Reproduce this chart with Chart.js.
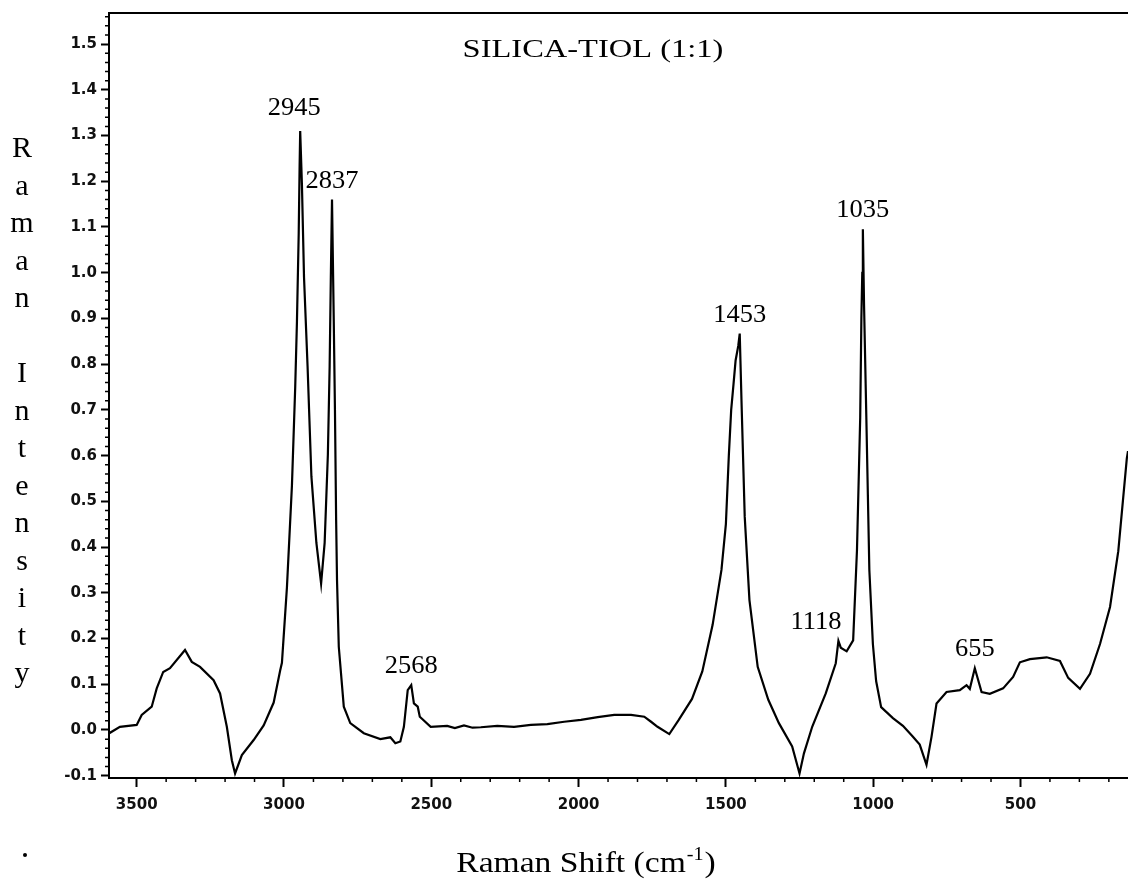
<!DOCTYPE html>
<html>
<head>
<meta charset="utf-8">
<title>SILICA-TIOL (1:1)</title>
<script src="https://cdn.jsdelivr.net/npm/chart.js@4/dist/chart.umd.min.js"></script>
<style>
  html, body { margin: 0; padding: 0; background: #fff; }
  #wrap { width: 1128px; height: 880px; position: relative; }
</style>
</head>
<body>
<div id="wrap"><canvas id="ramanChart"></canvas></div>
<script>
// Raman shift (cm-1), high to low
var shift = [
  3593, 3557, 3500, 3483, 3449, 3432, 3410, 3387, 3336, 3313, 3285, 3239, 3217, 3194, 3177, 3166,
  3143, 3103, 3069, 3035, 3013, 3007, 2990, 2973, 2962, 2956, 2950, 2947, 2945,
  2939, 2932, 2920, 2907, 2890, 2874, 2862, 2851, 2845, 2841, 2837,
  2831, 2827, 2823, 2820, 2814, 2797, 2775, 2729, 2673, 2639, 2622, 2605, 2593, 2580, 2568,
  2559, 2546, 2539, 2502, 2446, 2420, 2389, 2360, 2332, 2276, 2219, 2162, 2106, 2049, 1992,
  1935, 1879, 1822, 1777, 1754, 1732, 1692, 1660, 1615, 1580, 1545, 1515, 1500, 1490, 1482,
  1474, 1467, 1458, 1453, 1447, 1436, 1420, 1392, 1356, 1320, 1275, 1250, 1235, 1207, 1161,
  1127, 1118, 1110, 1090, 1068, 1055, 1044, 1040, 1037, 1035, 1031, 1023, 1018, 1013, 1001,
  990, 973, 933, 899, 865, 842, 819, 802, 785, 751, 706, 683, 672, 655, 632, 604,
  559, 525, 502, 468, 411, 366, 338, 298, 264, 230, 196, 168, 139, 135
];
var intensity = [
  -0.007, 0.007, 0.011, 0.033, 0.051, 0.091, 0.127, 0.135, 0.175, 0.149, 0.138, 0.109, 0.080, 0.007, -0.066, -0.095,
  -0.055, -0.022, 0.010, 0.060, 0.130, 0.147, 0.312, 0.535, 0.748, 0.893, 1.087, 1.232, 1.310,
  1.190, 0.990, 0.796, 0.555, 0.409, 0.320, 0.409, 0.603, 0.796, 0.990, 1.160,
  0.893, 0.700, 0.460, 0.328, 0.182, 0.051, 0.015, -0.007, -0.020, -0.016, -0.029, -0.025, 0.007, 0.087, 0.098,
  0.058, 0.051, 0.029, 0.007, 0.009, 0.004, 0.010, 0.005, 0.006, 0.009, 0.007, 0.011, 0.013, 0.018, 0.022,
  0.028, 0.033, 0.033, 0.029, 0.018, 0.007, -0.009, 0.022, 0.068, 0.128, 0.230, 0.350, 0.450, 0.600, 0.700,
  0.757, 0.808, 0.840, 0.867, 0.720, 0.466, 0.284, 0.138, 0.066, 0.015, -0.036, -0.095, -0.051, 0.007, 0.080,
  0.146, 0.195, 0.180, 0.172, 0.196, 0.393, 0.684, 0.902, 1.000, 1.095, 0.930, 0.676, 0.513, 0.350, 0.188,
  0.107, 0.050, 0.026, 0.009, -0.015, -0.032, -0.076, -0.015, 0.058, 0.083, 0.087, 0.098, 0.090, 0.135, 0.083, 0.079,
  0.091, 0.116, 0.148, 0.155, 0.159, 0.151, 0.114, 0.090, 0.123, 0.188, 0.269, 0.391, 0.594, 0.610
];

// labelled bands
var peakShifts = [2945, 2837, 2568, 1453, 1118, 1035, 655];

var xTickValues = [3500, 3000, 2500, 2000, 1500, 1000, 500];
var yTickValues = [-0.1, 0.0, 0.1, 0.2, 0.3, 0.4, 0.5, 0.6, 0.7, 0.8, 0.9, 1.0, 1.1, 1.2, 1.3, 1.4, 1.5];

var points = shift.map(function (x, i) { return { x: x, y: intensity[i] }; });

function stretchedText(ctx, text, x, y, sx, align) {
  ctx.save();
  ctx.translate(x, y);
  ctx.scale(sx, 1);
  ctx.textAlign = align || "center";
  ctx.textBaseline = "alphabetic";
  ctx.fillText(text, 0, 0);
  ctx.restore();
}

var decor = {
  id: "decor",
  afterDraw: function (chart) {
    var ctx = chart.ctx;
    var area = chart.chartArea;
    var xs = chart.scales.x;
    var ys = chart.scales.y;

    ctx.save();
    ctx.strokeStyle = "#000";
    ctx.fillStyle = "#000";

    // top frame line
    ctx.lineWidth = 2;
    ctx.beginPath();
    ctx.moveTo(area.left, area.top);
    ctx.lineTo(area.right, area.top);
    ctx.stroke();

    // minor ticks
    ctx.lineWidth = 1.5;
    ctx.beginPath();
    for (var v = 200; v <= 3500; v += 100) {
      if (v % 500 === 0) continue;
      var px = xs.getPixelForValue(v);
      ctx.moveTo(px, area.bottom);
      ctx.lineTo(px, area.bottom + 4);
    }
    for (var k = -5; k <= 78; k++) {
      if (k % 5 === 0) continue;
      var py = ys.getPixelForValue(k * 0.02);
      ctx.moveTo(area.left, py);
      ctx.lineTo(area.left - 4, py);
    }
    ctx.stroke();

    // band labels above each peak
    ctx.font = '25px "Liberation Serif"';
    peakShifts.forEach(function (p) {
      var i = shift.indexOf(p);
      var px = xs.getPixelForValue(p);
      var py = ys.getPixelForValue(intensity[i]) - 12;
      if (p === 1118) {
        stretchedText(ctx, String(p), px + 3, py, 1.06, "right");
      } else if (p === 2945) {
        stretchedText(ctx, String(p), px - 6, py - 4, 1.06, "center");
      } else {
        stretchedText(ctx, String(p), px, py, 1.06, "center");
      }
    });

    // plot title
    ctx.font = '25px "Liberation Serif"';
    stretchedText(ctx, "SILICA-TIOL (1:1)", 593, 57, 1.3, "center");

    // stacked y-axis title
    ctx.font = '30px "Liberation Serif"';
    ctx.textAlign = "center";
    var letters = "Raman Intensity".split("");
    letters.forEach(function (ch, j) {
      if (ch === " ") return;
      ctx.fillText(ch, 22, 157 + j * 37.5);
    });

    // x-axis title with superscript
    var sx = 1.12;
    var mainTxt = "Raman Shift (cm";
    ctx.font = '30px "Liberation Serif"';
    var w1 = ctx.measureText(mainTxt).width;
    var w3 = ctx.measureText(")").width;
    ctx.font = '18px "Liberation Serif"';
    var w2 = ctx.measureText("-1").width;
    var total = (w1 + w2 + w3) * sx;
    var x0 = 585 - total / 2;
    ctx.font = '30px "Liberation Serif"';
    stretchedText(ctx, mainTxt, x0, 872, sx, "left");
    ctx.font = '18px "Liberation Serif"';
    stretchedText(ctx, "-1", x0 + w1 * sx + 1, 860, sx, "left");
    ctx.font = '30px "Liberation Serif"';
    stretchedText(ctx, ")", x0 + (w1 + w2) * sx + 2, 872, sx, "left");

    // stray dot at lower left
    ctx.beginPath();
    ctx.arc(25, 855, 2, 0, Math.PI * 2);
    ctx.fill();

    ctx.restore();
  }
};

new Chart(document.getElementById("ramanChart"), {
  type: "line",
  data: {
    datasets: [
      {
        data: points,
        borderColor: "#000",
        borderWidth: 2.2,
        pointRadius: 0,
        tension: 0,
        fill: false
      }
    ]
  },
  options: {
    responsive: true,
    maintainAspectRatio: false,
    animation: false,
    events: [],
    layout: { padding: { left: 0, right: 0, top: 11, bottom: 62 } },
    plugins: {
      legend: { display: false },
      tooltip: { enabled: false }
    },
    scales: {
      x: {
        type: "linear",
        reverse: true,
        min: 135,
        max: 3594,
        afterBuildTicks: function (scale) {
          scale.ticks = xTickValues.map(function (v) { return { value: v }; });
        },
        afterFit: function (scale) { scale.height = 40; },
        grid: {
          drawOnChartArea: false,
          tickLength: 9,
          tickColor: "#000",
          tickWidth: 2
        },
        border: { color: "#000", width: 2 },
        ticks: {
          autoSkip: false,
          maxRotation: 0,
          padding: 9,
          color: "#111",
          font: { family: "DejaVu Sans", weight: "bold", size: 15 },
          callback: function (v) { return String(v); }
        }
      },
      y: {
        min: -0.105,
        max: 1.568,
        afterBuildTicks: function (scale) {
          scale.ticks = yTickValues.map(function (v) { return { value: v }; });
        },
        afterFit: function (scale) { scale.width = 109; },
        grid: {
          drawOnChartArea: false,
          tickLength: 8,
          tickColor: "#000",
          tickWidth: 2
        },
        border: { color: "#000", width: 2 },
        ticks: {
          autoSkip: false,
          padding: 4,
          color: "#111",
          font: { family: "DejaVu Sans", weight: "bold", size: 15 },
          callback: function (v) { return Number(v).toFixed(1); }
        }
      }
    }
  },
  plugins: [decor]
});
</script>
</body>
</html>
